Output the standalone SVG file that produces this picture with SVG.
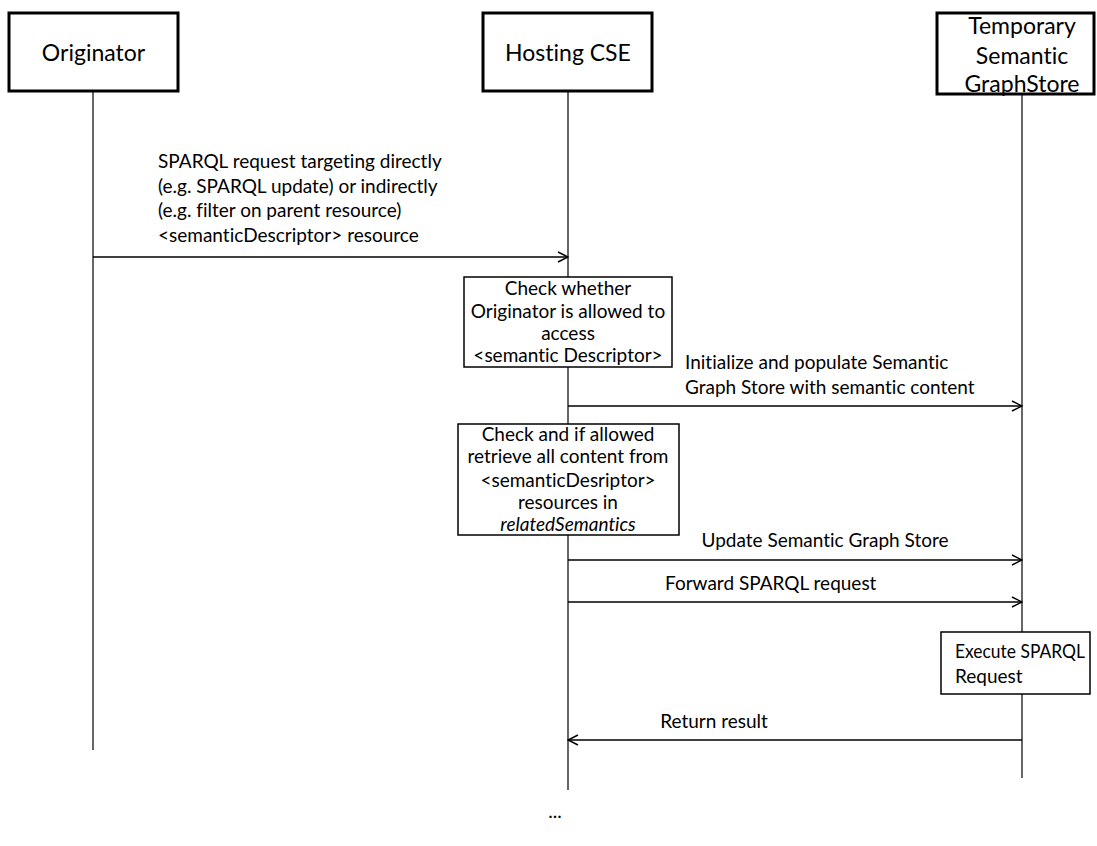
<svg xmlns="http://www.w3.org/2000/svg" width="1097" height="846" viewBox="0 0 1097 846">
<defs>
<marker id="arr" markerUnits="userSpaceOnUse" markerWidth="12" markerHeight="12" refX="11" refY="6" orient="auto">
<path d="M1,1 L11,6 L1,11" fill="none" stroke="#000" stroke-width="1.5"/>
</marker>
<style>
.hdr{fill:#fff;stroke:#000;stroke-width:3}
.box{fill:#fff;stroke:#000;stroke-width:1.5}
.life{stroke:#333;stroke-width:1.5;fill:none}
.msg{stroke:#000;stroke-width:1.5;fill:none;marker-end:url(#arr)}
text{font-family:Lato,"Liberation Sans",sans-serif;fill:#000;font-variant-ligatures:none}
.h{font-size:23px;text-anchor:middle}
.t{font-size:19px}
.c{text-anchor:middle}
</style>
</defs>
<rect width="1097" height="846" fill="#fff"/>
<g id="lifelines">
<line class="life" x1="93" y1="91" x2="93" y2="750"/>
<line class="life" x1="568" y1="91" x2="568" y2="790"/>
<line class="life" x1="1022" y1="94" x2="1022" y2="778"/>
</g>
<g id="originator">
<rect class="hdr" x="9" y="13" width="169" height="78"/>
<text class="h" x="93.5" y="61">Originator</text>
</g>
<g id="hosting-cse">
<rect class="hdr" x="483" y="13" width="169" height="78"/>
<text class="h" x="568" y="61">Hosting CSE</text>
</g>
<g id="temp-store">
<rect class="hdr" x="937" y="13" width="157" height="81"/>
<text class="h" x="1022" y="34">Temporary</text>
<text class="h" x="1022" y="64">Semantic</text>
<text class="h" x="1022" y="92">GraphStore</text>
</g>
<g id="check-access">
<rect class="box" x="464" y="277" width="208" height="90"/>
<text class="t c" x="568" y="295">Check whether</text>
<text class="t c" x="568" y="318">Originator is allowed to</text>
<text class="t c" x="568" y="340">access</text>
<text class="t c" x="568" y="362">&lt;semantic Descriptor&gt;</text>
</g>
<g id="check-retrieve">
<rect class="box" x="458" y="424" width="221" height="111"/>
<text class="t c" x="568" y="441">Check and if allowed</text>
<text class="t c" x="568" y="463">retrieve all content from</text>
<text class="t c" x="568" y="487">&lt;semanticDesriptor&gt;</text>
<text class="t c" x="568" y="509">resources in</text>
<text class="t c" x="568" y="531" font-style="italic">relatedSemantics</text>
</g>
<g id="execute">
<rect class="box" x="941" y="632" width="149" height="62"/>
<text class="t" x="955" y="658" textLength="130" lengthAdjust="spacingAndGlyphs">Execute SPARQL</text>
<text class="t" x="955" y="683">Request</text>
</g>
<g id="connectors">
<line class="msg" x1="93" y1="257" x2="568" y2="257"/>
<line class="msg" x1="568" y1="406" x2="1022" y2="406"/>
<line class="msg" x1="568" y1="560" x2="1022" y2="560"/>
<line class="msg" x1="568" y1="602" x2="1022" y2="602"/>
<line class="msg" x1="1022" y1="740" x2="568" y2="740"/>
</g>
<g id="labels">
<text class="t" x="158" y="168">SPARQL request targeting directly</text>
<text class="t" x="158" y="193">(e.g. SPARQL update) or indirectly</text>
<text class="t" x="158" y="217">(e.g. filter on parent resource)</text>
<text class="t" x="158" y="242">&lt;semanticDescriptor&gt; resource</text>
<text class="t" x="685" y="369">Initialize and populate Semantic</text>
<text class="t" x="685" y="394">Graph Store with semantic content</text>
<text class="t c" x="825" y="547">Update Semantic Graph Store</text>
<text class="t" x="665" y="590">Forward SPARQL request</text>
<text class="t c" x="714" y="728">Return result</text>
<text class="t c" x="555" y="818">...</text>
</g>
</svg>
